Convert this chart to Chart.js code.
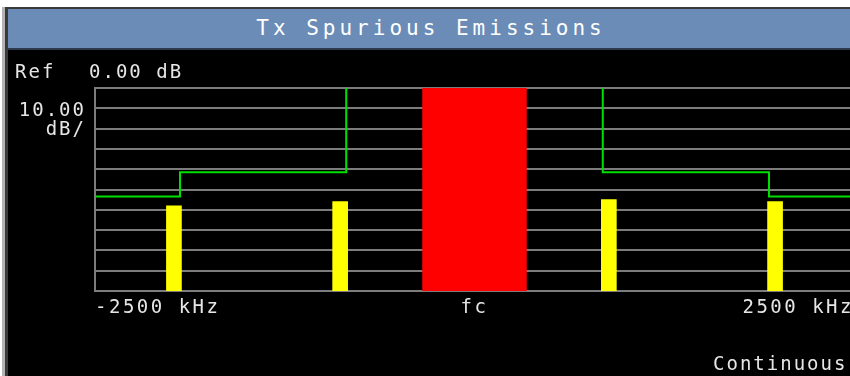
<!DOCTYPE html>
<html>
<head>
<meta charset="utf-8">
<title>Tx Spurious Emissions</title>
<script src="https://cdn.jsdelivr.net/npm/chart.js@4"></script>
<style>
  html, body { margin: 0; padding: 0; width: 850px; height: 376px; overflow: hidden; background: #fff; }
  .frame-left { position: absolute; left: 2px; top: 7px; width: 3px; height: 369px; background: #b4b4b4; }
  .frame-left2 { position: absolute; left: 5px; top: 7px; width: 3px; height: 369px; background: #3a3a3a; }
  .frame-top { position: absolute; left: 5px; top: 7px; width: 845px; height: 2px; background: #3a3a3a; }
  .title {
    position: absolute; left: 8px; top: 9px; width: 850px; height: 41px;
    background: #6a8cb6; border-bottom: 2px solid #2c3a4c;
    color: #fff; font-family: "DejaVu Sans Mono", monospace; font-size: 21px;
    letter-spacing: 4px; line-height: 39px; text-align: center; box-sizing: border-box;
    padding-right: 4px;
  }
  .plot { position: absolute; left: 8px; top: 50px; width: 862px; height: 326px; background: #000; }
</style>
</head>
<body>
<div class="frame-left"></div>
<div class="frame-left2"></div>
<div class="frame-top"></div>
<div class="title">Tx Spurious Emissions</div>
<div class="plot"><canvas id="spurChart"></canvas></div>
<script>
// frequency offsets from the carrier, kHz
const spurOffsets = [-1980, -885, 885, 1980];
// measured spur levels, dB
const spurLevels = [-58, -56, -55, -56];
// carrier block (half bandwidth in kHz, level in dB)
const carrierEdges = [-345, 345];
const carrierLevel = 0;
// limit mask
const maskX = [-2500, -1940, -1940, -845, -845, null, 845, 845, 1940, 1940, 2500];
const maskY = [-53.5, -53.5, -41.5, -41.5, 0, null, 0, -41.5, -41.5, -53.5, -53.5];
// axis
const spanKHz = [-2500, 2500];
const xTicks = [-2500, 0, 2500];
const xTickLabels = ["-2500 kHz", "fc", "2500 kHz"];
const refLevel = 0;
const dbPerDiv = 10;
const divisions = 10;

const textColor = "#e6e6e6";
const monoFont = '"DejaVu Sans Mono", monospace';

const floor = refLevel - dbPerDiv * divisions;

const carrierData = carrierEdges.map(x => ({ x: x, y: carrierLevel }));
const spurData = spurOffsets.map((x, i) => ({ x: x, y: [floor, spurLevels[i]] }));
const maskData = maskX.map((x, i) => (x === null ? { x: 0, y: null } : { x: x, y: maskY[i] }));

// wide monospace look for all canvas text (tick labels included)
const spacing = {
  id: "spacing",
  beforeInit(chart) { chart.ctx.letterSpacing = "2.5px"; },
  beforeDraw(chart) { chart.ctx.letterSpacing = "2.5px"; },
};

// screen annotations: ref level, scale, sweep mode
const annotations = {
  id: "annotations",
  afterDraw(chart) {
    const ctx = chart.ctx;
    ctx.save();
    ctx.fillStyle = textColor;
    ctx.font = "19px " + monoFont;
    ctx.letterSpacing = "2px";
    ctx.textBaseline = "alphabetic";
    ctx.textAlign = "left";
    ctx.fillText("Ref", 7, 28);
    ctx.fillText(refLevel.toFixed(2) + " dB", 81, 28);
    ctx.fillText("Continuous", 705, 320);
    ctx.textAlign = "right";
    ctx.fillText(dbPerDiv.toFixed(2), 78, 66);
    ctx.fillText("dB/", 78, 85);
    ctx.restore();
  }
};

const ctx = document.getElementById("spurChart").getContext("2d");
new Chart(ctx, {
  data: {
    datasets: [
      {
        type: "line",
        label: "Carrier",
        data: carrierData,
        borderWidth: 0,
        borderColor: "#ff0000",
        backgroundColor: "#ff0000",
        pointRadius: 0,
        fill: "start",
        order: 3,
      },
      {
        type: "bar",
        label: "Spurs",
        data: spurData,
        backgroundColor: "#ffff00",
        borderWidth: 0,
        barThickness: 15,
        order: 2,
      },
      {
        type: "line",
        label: "Limit",
        data: maskData,
        borderColor: "#00e000",
        borderWidth: 2,
        pointRadius: 0,
        spanGaps: false,
        fill: false,
        order: 1,
      },
    ],
  },
  options: {
    responsive: true,
    maintainAspectRatio: false,
    animation: false,
    layout: { padding: { left: 87, top: 38, right: 16, bottom: 58 } },
    plugins: {
      legend: { display: false },
      tooltip: { enabled: false },
    },
    scales: {
      x: {
        type: "linear",
        min: spanKHz[0],
        max: spanKHz[1],
        offset: false,
        grid: { display: false, offset: false },
        border: { display: false },
        afterBuildTicks: axis => { axis.ticks = xTicks.map(v => ({ value: v })); },
        ticks: {
          align: "inner",
          autoSkip: false,
          maxRotation: 0,
          padding: 0,
          color: textColor,
          font: { family: monoFont, size: 19, lineHeight: 1 },
          callback: value => xTickLabels[xTicks.indexOf(value)],
        },
      },
      y: {
        min: floor,
        max: refLevel,
        ticks: { display: false, stepSize: dbPerDiv },
        grid: { color: "#7c7c7c", lineWidth: 2, drawTicks: false },
        border: { display: true, color: "#7c7c7c", width: 2 },
      },
    },
  },
  plugins: [spacing, annotations],
});
</script>
</body>
</html>
